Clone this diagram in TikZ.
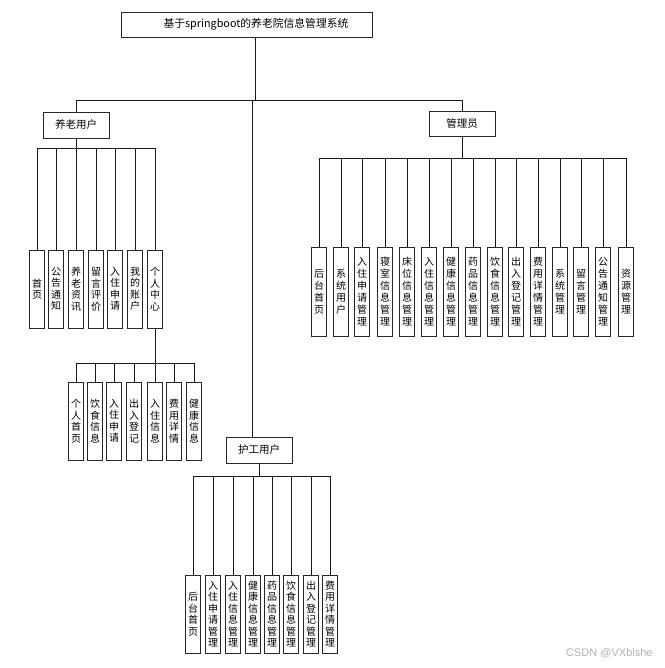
\documentclass[tikz,border=0pt]{standalone}
\usepackage{fontspec}
\setmainfont{Noto Sans CJK SC}
\newfontfamily\wmfont{Liberation Sans}
\begin{document}
\begin{tikzpicture}[x=1pt,y=-1pt,
  box/.style={draw=black!85,line width=0.9pt,fill=white,inner sep=0pt,
    minimum width=66pt,minimum height=26pt,font=\fontsize{10.5}{12}\selectfont},
  leaf/.style={draw=black!85,line width=0.9pt,fill=white,inner sep=0pt,
    minimum width=14.5pt,minimum height=78pt,align=center,
    font=\fontsize{10}{11.5}\selectfont},
  aleaf/.style={leaf,minimum width=15pt,minimum height=89pt,
    font=\fontsize{10}{12}\selectfont},
  conn/.style={draw=black!90,line width=0.8pt}]
\useasboundingbox (0,0) rectangle (664,668);
\fill[white] (0,0) rectangle (664,668);

% title
\node[box,minimum width=251pt,minimum height=25pt,font=\fontsize{10.8}{12}\selectfont] (title) at (246.5,24.5)
  {\hspace*{19pt}基于springboot的养老院信息管理系统};
\coordinate (tj) at (255,37);
\coordinate (topbus) at (255,100);
\coordinate (mj) at (252,100);

% second level
\node[box] (yl) at (76,125) {养老用户};
\node[box,minimum height=25pt] (gl) at (462,123.5) {管理员};
\node[box] (hg) at (259,450) {护工用户};

% elderly leaves
\node[leaf] (y1) at (37,289) {首\\页};
\node[leaf] (y2) at (56,289) {公\\告\\通\\知};
\node[leaf] (y3) at (76,289) {养\\老\\资\\讯};
\node[leaf] (y4) at (96,289) {留\\言\\评\\价};
\node[leaf] (y5) at (115,289) {入\\住\\申\\请};
\node[leaf] (y6) at (135,289) {我\\的\\账\\户};
\node[leaf] (y7) at (155,289) {个\\人\\中\\心};

% personal center leaves
\node[leaf] (p1) at (76,421) {个\\人\\首\\页};
\node[leaf] (p2) at (95,421) {饮\\食\\信\\息};
\node[leaf] (p3) at (114,421) {入\\住\\申\\请};
\node[leaf] (p4) at (134,421) {出\\入\\登\\记};
\node[leaf] (p5) at (155,421) {入\\住\\信\\息};
\node[leaf] (p6) at (174,421) {费\\用\\详\\情};
\node[leaf] (p7) at (194,421) {健\\康\\信\\息};

% admin leaves
\node[aleaf] (a1) at (319,291.5) {后\\台\\首\\页};
\node[aleaf] (a2) at (341,291.5) {系\\统\\用\\户};
\node[aleaf] (a3) at (362,291.5) {入\\住\\申\\请\\管\\理};
\node[aleaf] (a4) at (385,291.5) {寝\\室\\信\\息\\管\\理};
\node[aleaf] (a5) at (407,291.5) {床\\位\\信\\息\\管\\理};
\node[aleaf] (a6) at (429,291.5) {入\\住\\信\\息\\管\\理};
\node[aleaf] (a7) at (451,291.5) {健\\康\\信\\息\\管\\理};
\node[aleaf] (a8) at (473,291.5) {药\\品\\信\\息\\管\\理};
\node[aleaf] (a9) at (495,291.5) {饮\\食\\信\\息\\管\\理};
\node[aleaf] (a10) at (516,291.5) {出\\入\\登\\记\\管\\理};
\node[aleaf] (a11) at (538,291.5) {费\\用\\详\\情\\管\\理};
\node[aleaf] (a12) at (560,291.5) {系\\统\\管\\理};
\node[aleaf] (a13) at (581,291.5) {留\\言\\管\\理};
\node[aleaf] (a14) at (603,291.5) {公\\告\\通\\知\\管\\理};
\node[aleaf] (a15) at (626,291.5) {资\\源\\管\\理};

% nurse leaves
\node[leaf] (h1) at (193,614) {后\\台\\首\\页};
\node[leaf] (h2) at (213,614) {入\\住\\申\\请\\管\\理};
\node[leaf] (h3) at (233,614) {入\\住\\信\\息\\管\\理};
\node[leaf] (h4) at (253,614) {健\\康\\信\\息\\管\\理};
\node[leaf] (h5) at (272,614) {药\\品\\信\\息\\管\\理};
\node[leaf] (h6) at (291,614) {饮\\食\\信\\息\\管\\理};
\node[leaf] (h7) at (311,614) {出\\入\\登\\记\\管\\理};
\node[leaf] (h8) at (330,614) {费\\用\\详\\情\\管\\理};

% bus coordinates
\coordinate (ybus) at (0,148);
\coordinate (pbus) at (0,363);
\coordinate (abus) at (0,158);
\coordinate (hbus) at (0,476);

% top-level connectors
\draw[conn] (tj) -- (topbus);
\draw[conn] (yl.north) -- (yl.north |- topbus) -- (gl.north |- topbus) -- (gl.north);
\draw[conn] (mj) -- (mj |- hg.north);

% elderly
\draw[conn] (yl.south) -- (yl.south |- ybus);
\draw[conn] (y1.north |- ybus) -- (y7.north |- ybus);
\foreach \i in {1,...,7} \draw[conn] (y\i.north) -- (y\i.north |- ybus);

% personal center
\draw[conn] (y7.south) -- (y7.south |- pbus);
\draw[conn] (p1.north |- pbus) -- (p7.north |- pbus);
\foreach \i in {1,...,7} \draw[conn] (p\i.north) -- (p\i.north |- pbus);

% admin
\draw[conn] (gl.south) -- (gl.south |- abus);
\draw[conn] (a1.north |- abus) -- (a15.north |- abus);
\foreach \i in {1,...,15} \draw[conn] (a\i.north) -- (a\i.north |- abus);

% nurse
\draw[conn] (hg.south) -- (hg.south |- hbus);
\draw[conn] (h1.north |- hbus) -- (h8.north |- hbus);
\foreach \i in {1,...,8} \draw[conn] (h\i.north) -- (h\i.north |- hbus);

% watermark
\node[text=black!30,font=\wmfont\fontsize{11}{13}\selectfont,anchor=west,inner sep=0pt] (wm) at (566,653) {CSDN @VXbishe};
\end{tikzpicture}
\end{document}
